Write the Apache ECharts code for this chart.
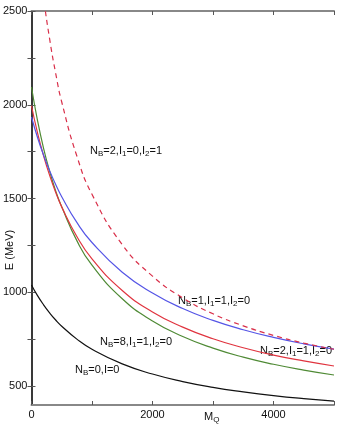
<!DOCTYPE html>
<html>
<head>
<meta charset="utf-8">
<script src="https://cdn.jsdelivr.net/npm/echarts@6/dist/echarts.min.js"></script>
<style>
  html, body { margin: 0; padding: 0; background: #fff; }
  #main { width: 346px; height: 427px; }
</style>
</head>
<body>
<div id="main"></div>
<script>
// M_Q values (x)
var mq = [0, 100, 200, 300, 400, 500, 750, 1000, 1500, 2000, 2500, 3000, 3500, 4000, 4500, 5000];

// E (MeV) for each curve
var eB0 = [1040, 983, 934, 891, 853, 820, 751, 697, 619, 565, 525, 494, 470, 450, 434, 421];
var eB8 = [2095, 1916, 1768, 1646, 1541, 1456, 1276, 1145, 966, 848, 765, 703, 655, 617, 586, 560];
var eB2a = [1995, 1850, 1728, 1624, 1534, 1456, 1298, 1179, 1010, 896, 815, 753, 705, 666, 635, 608];
var eB1 = [1935, 1826, 1732, 1649, 1575, 1510, 1373, 1266, 1108, 997, 914, 851, 801, 760, 726, 698];
var eB2b = [3215, 2854, 2574, 2351, 2168, 2015, 1727, 1523, 1255, 1087, 971, 886, 822, 771, 730, 697];

var yTicks = [500, 750, 1000, 1250, 1500, 1750, 2000, 2250, 2500];
var yLabels = [500, 1000, 1500, 2000, 2500];
var xLabels = [0, 2000, 4000];

function pairs(ys) {
  return mq.map(function (m, i) { return [m, ys[i]]; });
}
function plain(v) { return String(v); }

var font = "'Liberation Sans', Arial, sans-serif";
var rich = {
  n: { fontSize: 11, fontFamily: font, color: '#111' },
  s: { fontSize: 8, fontFamily: font, color: '#111', padding: [7, 0, 0, 0] }
};

function label(x, y, str) {
  return {
    type: 'text', left: x, top: y,
    style: { text: str, rich: rich, fontSize: 11, fontFamily: font, fill: '#111' }
  };
}

var myChart = echarts.init(document.getElementById('main'));
var option = {
  animation: false,
  grid: { left: 31, right: 12, top: 11, bottom: 22 },
  xAxis: [{
    type: 'value', min: 0, max: 5000, interval: 1000,
    axisLine: { lineStyle: { color: '#888', width: 2 } },
    axisTick: { inside: true, length: 4, lineStyle: { color: '#555' } },
    axisLabel: { customValues: xLabels, formatter: plain, color: '#111', fontSize: 11, fontFamily: font, margin: 4 },
    splitLine: { show: false }
  }, {
    type: 'value', position: 'top', min: 0, max: 5000, interval: 1000,
    axisLine: { lineStyle: { color: '#888', width: 2 } },
    axisTick: { inside: true, length: 4, lineStyle: { color: '#555' } },
    axisLabel: { show: false },
    splitLine: { show: false }
  }],
  yAxis: [{
    type: 'value', min: 400, max: 2500,
    axisLine: { show: true, lineStyle: { color: '#111', width: 1.5 } },
    axisTick: { show: true, inside: true, length: 4, customValues: yTicks, lineStyle: { color: '#555' } },
    axisLabel: { customValues: yLabels, formatter: plain, color: '#111', fontSize: 11, fontFamily: font, margin: 4 },
    splitLine: { show: false }
  }, {
    type: 'value', position: 'right', min: 400, max: 2500,
    axisLine: { show: true, lineStyle: { color: '#333', width: 1.5 } },
    axisTick: { show: true, inside: true, length: 4, customValues: yTicks, lineStyle: { color: '#555' } },
    axisLabel: { show: false },
    splitLine: { show: false }
  }],
  series: [
    { name: 'NB=0,I=0', type: 'line', data: pairs(eB0), smooth: true, symbol: 'none', clip: true,
      lineStyle: { color: '#111', width: 1.2 } },
    { name: 'NB=8,I1=1,I2=0', type: 'line', data: pairs(eB8), smooth: true, symbol: 'none', clip: true,
      lineStyle: { color: '#4f8a35', width: 1.2 } },
    { name: 'NB=2,I1=1,I2=0', type: 'line', data: pairs(eB2a), smooth: true, symbol: 'none', clip: true,
      lineStyle: { color: '#e0343f', width: 1.2 } },
    { name: 'NB=1,I1=1,I2=0', type: 'line', data: pairs(eB1), smooth: true, symbol: 'none', clip: true,
      lineStyle: { color: '#5555e6', width: 1.2 } },
    { name: 'NB=2,I1=0,I2=1', type: 'line', data: pairs(eB2b), smooth: true, symbol: 'none', clip: true,
      lineStyle: { color: '#d9304a', width: 1.2, type: [5, 4] } }
  ],
  graphic: [
    label(90, 145, '{n|N}{s|B}{n|=2,I}{s|1}{n|=0,I}{s|2}{n|=1}'),
    label(178, 295, '{n|N}{s|B}{n|=1,I}{s|1}{n|=1,I}{s|2}{n|=0}'),
    label(260, 345, '{n|N}{s|B}{n|=2,I}{s|1}{n|=1,I}{s|2}{n|=0}'),
    label(100, 336, '{n|N}{s|B}{n|=8,I}{s|1}{n|=1,I}{s|2}{n|=0}'),
    label(75, 364, '{n|N}{s|B}{n|=0,I=0}'),
    label(204, 411, '{n|M}{s|Q}'),
    {
      type: 'text', x: 4, y: 250, rotation: Math.PI / 2,
      style: { text: 'E (MeV)', fontSize: 11, fontFamily: font, fill: '#111', textAlign: 'center', textVerticalAlign: 'top' }
    }
  ]
};
myChart.setOption(option, true);
</script>
</body>
</html>
